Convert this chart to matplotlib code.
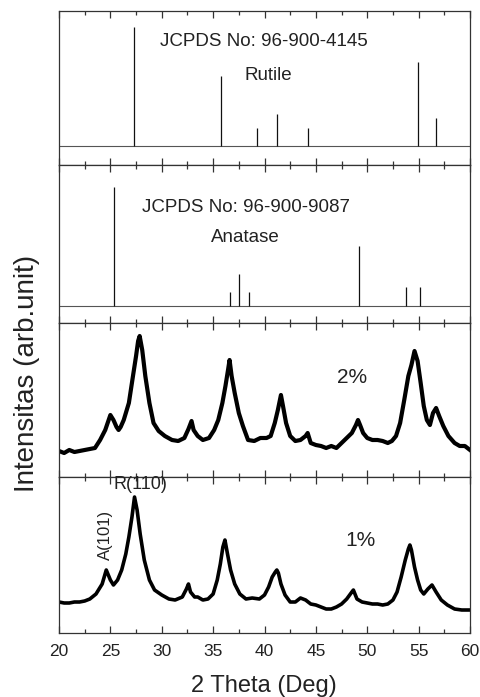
import matplotlib
matplotlib.use("Agg")
import matplotlib.pyplot as plt
from matplotlib.ticker import MultipleLocator

plt.rcParams['font.family'] = ['Liberation Sans', 'DejaVu Sans']

# ---- reference patterns (stick positions, relative intensity %) ----
rutile_pos = [27.3, 35.8, 39.3, 41.2, 44.2, 54.9, 56.7]
rutile_int = [100, 59, 15, 27, 15, 71, 24]
anatase_pos = [25.38, 36.64, 37.55, 38.49, 49.17, 53.74, 55.1]
anatase_int = [100, 12, 27, 12, 50, 16, 16]

# ---- measured patterns (2 theta, intensity a.u.) ----
x_2pct = [20.0, 20.5, 21.0, 21.5, 22.0, 22.5, 23.0, 23.5, 24.0, 24.5, 24.8, 25.0, 25.3,
          25.6, 25.8, 26.0, 26.3, 26.8, 27.2, 27.5, 27.7, 27.85, 28.1, 28.4, 28.8, 29.2,
          29.7, 30.3, 31.0, 31.6, 32.2, 32.6, 32.9, 33.1, 33.5, 34.0,
          34.6, 35.1, 35.5, 35.9, 36.2, 36.45, 36.6, 36.8, 37.1, 37.5, 37.9, 38.4, 39.0,
          39.6, 40.2, 40.6, 41.0, 41.3, 41.6, 41.8, 42.1, 42.5, 43.0, 43.5, 44.0, 44.2,
          44.5, 45.0, 45.5, 46.0, 46.5, 47.0, 47.5, 48.0, 48.5, 48.9, 49.1,
          49.3, 49.6, 50.0, 50.5, 51.0, 51.5, 52.0, 52.4, 52.8, 53.2, 53.6, 54.0, 54.3,
          54.6, 54.9, 55.2, 55.5, 55.8, 56.1, 56.4, 56.7, 57.0, 57.4, 57.9, 58.5, 59.0,
          59.5, 60.0]
y_2pct = [26, 24, 27, 25, 26, 27, 28, 29, 37, 47, 56, 62, 57,
          50, 47, 50, 57, 74, 101, 121, 136, 141, 127, 101, 74, 54,
          46, 41, 37, 36, 39, 48, 56, 47, 41, 37,
          39, 47, 57, 74, 91, 107, 117, 101, 84, 64, 51, 37, 36,
          39, 39, 41, 54, 67, 82, 71, 54, 41, 36, 37, 41, 44,
          34, 32, 31, 29, 31, 29, 34, 39, 44, 52, 57,
          52, 44, 39, 37, 37, 36, 34, 36, 41, 54, 77, 101, 112,
          126, 116, 94, 71, 57, 52, 64, 69, 61, 51, 41, 34, 31,
          31, 27]

x_1pct = [20.0, 20.5, 21.0, 21.5, 22.0, 22.5, 23.0, 23.6, 24.2, 24.6, 25.0, 25.3, 25.7,
          26.1, 26.5, 26.8, 27.1, 27.35, 27.6, 27.9, 28.3, 28.8, 29.3, 30.0, 30.7, 31.3,
          32.0, 32.4, 32.6, 32.8, 33.2, 33.5, 34.0, 34.5, 35.0, 35.4, 35.7, 35.95, 36.15,
          36.4, 36.7, 37.1, 37.6, 38.2, 38.8, 39.5, 40.0, 40.4, 40.75, 41.05, 41.2, 41.35,
          41.6, 42.0, 42.5, 43.0, 43.5, 44.0, 44.5, 45.0, 45.5, 46.0, 46.5, 47.0, 47.5,
          48.0, 48.5, 48.65, 49.0, 49.5, 50.0, 50.5, 51.0, 51.5, 52.0, 52.5, 52.9, 53.3,
          53.7, 54.0, 54.15, 54.3, 54.6, 54.9, 55.2, 55.5, 55.9, 56.3, 56.7, 57.2, 57.8,
          58.5, 59.2, 60.0]
y_1pct = [31, 30, 30, 31, 31, 32, 34, 39, 49, 63, 53, 48, 53,
          63, 79, 96, 116, 136, 123, 99, 73, 53, 43, 38, 34, 33,
          36, 44, 49, 41, 36, 36, 33, 34, 39, 53, 69, 86, 93,
          79, 63, 49, 39, 34, 35, 34, 38, 46, 56, 61, 63, 60,
          49, 38, 31, 31, 35, 33, 29, 28, 26, 24, 24, 26, 29,
          34, 41, 43, 34, 31, 30, 29, 29, 28, 29, 33, 41, 56,
          73, 84, 88, 83, 66, 53, 43, 39, 44, 48, 41, 33, 28,
          24, 23, 23]

W, H = 480, 697
fig = plt.figure(figsize=(W / 100, H / 100), dpi=100)

left = 59 / W
width = (470 - 59) / W
panels_px = [(11, 165), (165, 323), (323, 477), (477, 633)]
axes = []
for top, bot in panels_px:
    ax = fig.add_axes([left, 1 - bot / H, width, (bot - top) / H])
    axes.append(ax)

spine_col = '#333333'
text_col = '#222222'
for i, ax in enumerate(axes):
    ax.set_xlim(20, 60)
    ax.xaxis.set_major_locator(MultipleLocator(5))
    ax.xaxis.set_minor_locator(MultipleLocator(2.5))
    ax.tick_params(axis='x', which='both', direction='in', top=True, bottom=True,
                   colors=spine_col, labelcolor=text_col, labelsize=12.5, pad=8)
    ax.tick_params(axis='x', which='major', length=5, width=0.9)
    ax.tick_params(axis='x', which='minor', length=3, width=0.9)
    ax.set_yticks([])
    for s in ax.spines.values():
        s.set_color(spine_col)
        s.set_linewidth(0.9)
    if i < 3:
        ax.tick_params(axis='x', labelbottom=False)

# Panel 1: rutile
ax = axes[0]
ax.set_ylim(-19 / 1.187, 135 / 1.187)
ax.axhline(0, color='#555555', lw=0.8)
ax.vlines(rutile_pos, 0, rutile_int, color='#111111', lw=0.9)
ax.text(39.95, 0.799, 'JCPDS No: 96-900-4145', transform=ax.get_xaxis_transform(),
        ha='center', va='center', fontsize=13.5, color=text_col)
ax.text(40.34, 0.578, 'Rutile', transform=ax.get_xaxis_transform(),
        ha='center', va='center', fontsize=13.5, color=text_col)

# Panel 2: anatase
ax = axes[1]
ax.set_ylim(-17 / 1.193, 141 / 1.193)
ax.axhline(0, color='#555555', lw=0.8)
ax.vlines(anatase_pos, 0, anatase_int, color='#111111', lw=0.9)
ax.text(38.2, 0.734, 'JCPDS No: 96-900-9087', transform=ax.get_xaxis_transform(),
        ha='center', va='center', fontsize=13.5, color=text_col)
ax.text(38.1, 0.544, 'Anatase', transform=ax.get_xaxis_transform(),
        ha='center', va='center', fontsize=13.5, color=text_col)

# Panel 3: 2%
ax = axes[2]
ax.set_ylim(0, 154)
ax.plot(x_2pct, y_2pct, color='black', lw=3.0, solid_joinstyle='round')
ax.text(48.5, 0.649, '2%', transform=ax.get_xaxis_transform(),
        ha='center', va='center', fontsize=15, color=text_col)

# Panel 4: 1%
ax = axes[3]
ax.set_ylim(0, 156)
ax.plot(x_1pct, y_1pct, color='black', lw=2.6, solid_joinstyle='round')
ax.text(49.3, 0.596, '1%', transform=ax.get_xaxis_transform(),
        ha='center', va='center', fontsize=15, color=text_col)
ax.text(27.9, 0.949, 'R(110)', transform=ax.get_xaxis_transform(),
        ha='center', va='center', fontsize=13, color=text_col, clip_on=False)
ax.text(24.5, 0.628, 'A(101)', transform=ax.get_xaxis_transform(), rotation=90,
        ha='center', va='center', fontsize=12, color=text_col)

fig.text(264 / W, 1 - 686 / H, '2 Theta (Deg)', ha='center', va='center',
         fontsize=17, color=text_col)
fig.text(27 / W, 1 - 373 / H, 'Intensitas (arb.unit)', rotation=90,
         ha='center', va='center', fontsize=20, color=text_col)

fig.savefig('out.png', dpi=100)
